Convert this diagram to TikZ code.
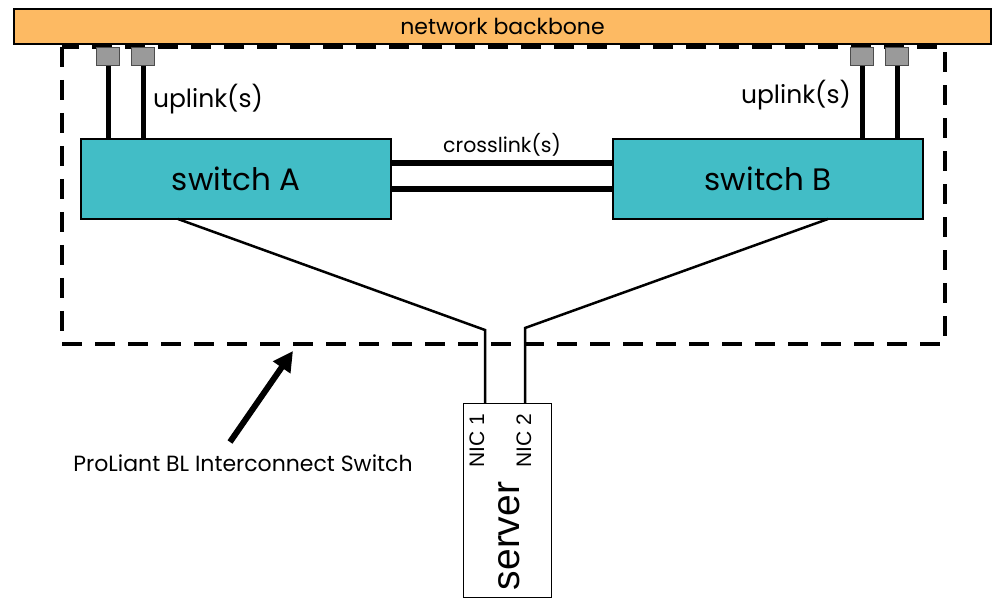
\documentclass[tikz,border=0pt]{standalone}
\usepackage{fontspec}
\setmainfont{Poppins}
\newfontfamily\arialf{Liberation Sans}
\usetikzlibrary{arrows.meta}
\definecolor{bbone}{HTML}{FDBA63}
\definecolor{swc}{HTML}{42BDC6}
\definecolor{plug}{HTML}{9A9A9A}
\tikzset{
  swbox/.style={draw=black, line width=2pt, fill=swc, minimum width=310pt, minimum height=80pt, inner sep=0pt, font=\fontsize{31}{34}\selectfont},
  plugbox/.style={draw=black!70, line width=1pt, fill=plug, minimum width=23pt, minimum height=18pt, inner sep=0pt},
  thick link/.style={line width=5pt},
  cross link/.style={line width=6pt},
  thin link/.style={line width=2.5pt},
  lbl/.style={inner sep=0pt, font=\fontsize{22}{24}\selectfont},
}
\begin{document}
\begin{tikzpicture}[x=1pt,y=-1pt]
\useasboundingbox (0,0) rectangle (998,601);
% backbone
\node[draw=black, line width=2pt, fill=bbone, minimum width=977pt, minimum height=35pt, inner sep=0pt, anchor=north west, font=\fontsize{22}{24}\selectfont] (bb) at (13,8) {network backbone};
% dashed enclosure
\draw[line width=4.5pt, dash pattern=on 20pt off 13pt] (62,47) rectangle (945,344);
% switches
\node[swbox, anchor=north west] (swA) at (80,138) {switch A};
\node[swbox, anchor=north west] (swB) at (612,138) {switch B};
% plugs
\node[plugbox, anchor=north] (p1) at (108,47) {};
\node[plugbox, anchor=north] (p2) at (143,47) {};
\node[plugbox, anchor=north] (p3) at (862,47) {};
\node[plugbox, anchor=north] (p4) at (897,47) {};
% uplinks
\draw[thick link] (p1.south) -- (p1.south |- swA.north);
\draw[thick link] (p2.south) -- (p2.south |- swA.north);
\draw[thick link] (p3.south) -- (p3.south |- swB.north);
\draw[thick link] (p4.south) -- (p4.south |- swB.north);
\node[lbl, font=\fontsize{25}{27}\selectfont] (ul1) at (208,99) {uplink(s)};
\node[lbl, font=\fontsize{25}{27}\selectfont] (ul2) at (796,95) {uplink(s)};
% crosslinks
\coordinate (cA1) at (390,163);
\coordinate (cA2) at (390,189);
\draw[cross link] (swA.east |- cA1) -- (swB.west |- cA1);
\draw[cross link] (swA.east |- cA2) -- (swB.west |- cA2);
\node[lbl, font=\fontsize{20.5}{22}\selectfont] (cl) at (502,145) {crosslink(s)};
% server
\node[draw=black, line width=1.2pt, minimum width=88pt, minimum height=194pt, inner sep=0pt, anchor=north west] (srv) at (463,403) {};
\node[rotate=90, inner sep=0pt, font=\arialf\fontsize{39}{40}\selectfont] (srvt) at (509,536) {server};
\node[rotate=90, inner sep=0pt, anchor=east, font=\arialf\fontsize{21}{22}\selectfont] (nic1) at (477,414) {NIC 1};
\node[rotate=90, inner sep=0pt, anchor=east, font=\arialf\fontsize{21}{22}\selectfont] (nic2) at (524,414) {NIC 2};
% server links
\coordinate (kA) at (485,330);
\coordinate (kB) at (525,328);
\coordinate (sA) at (178,219);
\coordinate (sB) at (828,219);
\draw[thin link] (sA) -- (kA) -- (kA |- srv.north);
\draw[thin link] (sB) -- (kB) -- (kB |- srv.north);
% arrow and label
\node[lbl] (pl) at (243,463) {ProLiant BL Interconnect Switch};
\coordinate (atip) at (293,351);
\draw[line width=6pt, -{Triangle[length=20pt,width=20pt]}] (230,442) -- (atip);
\end{tikzpicture}
\end{document}
